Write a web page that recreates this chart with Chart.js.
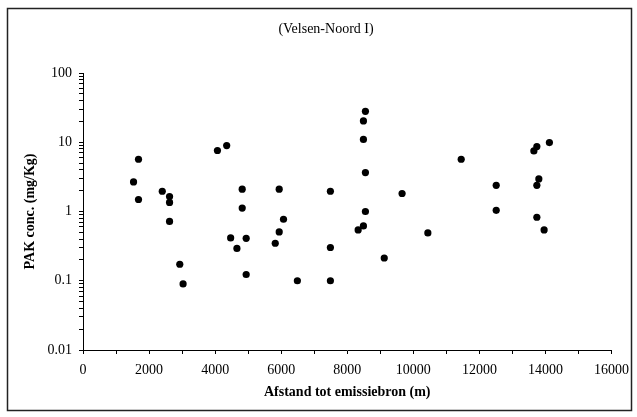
<!DOCTYPE html>
<html>
<head>
<meta charset="utf-8">
<script src="https://cdn.jsdelivr.net/npm/chart.js@4/dist/chart.umd.min.js"></script>
<style>
  html, body { margin: 0; padding: 0; background: #fff; }
  canvas { display: block; }
</style>
</head>
<body>
<canvas id="chart" width="637" height="417"></canvas>
<script>
// Distance to the emission source (m) and PAH concentration (mg/kg) per sample
const distances = [1530, 1680, 1680, 2400, 2620, 2620, 2620, 2930, 3030,
  4070, 4350, 4470, 4660, 4820, 4820, 4940, 4940, 5820, 5940, 5940, 6070,
  6490, 7490, 7490, 7490, 8330, 8490, 8550, 8550, 8490, 8490, 8550, 9120,
  9660, 10440, 11450, 12510, 12510, 13650, 13740, 13800, 13740, 13740,
  13960, 14120];
const concentrations = [2.67, 5.68, 1.49, 1.96, 1.64, 1.35, 0.72, 0.173, 0.09,
  7.6, 8.96, 0.415, 0.293, 2.10, 1.12, 0.41, 0.123, 0.348, 2.10, 0.507, 0.773,
  0.10, 1.96, 0.302, 0.10, 0.542, 0.618, 1.0, 3.65, 11.0, 20.3, 28.0, 0.213,
  1.82, 0.49, 5.68, 2.39, 1.04, 7.49, 8.67, 2.95, 2.39, 0.826,
  0.542, 9.9];

const xTickLabels = [0, 2000, 4000, 6000, 8000, 10000, 12000, 14000, 16000];
const yTickLabels = [0.01, 0.1, 1, 10, 100];

const chartTitle = '(Velsen-Noord I)';
const xTitle = 'Afstand tot emissiebron (m)';
const yTitle = 'PAK conc. (mg/Kg)';

const points = distances.map((d, i) => ({ x: d, y: concentrations[i] }));

// log-axis tick positions: every integer multiple within each decade
const yTickValues = [];
for (let i = 0; i < yTickLabels.length - 1; i++) {
  for (let m = 1; m <= 9; m++) yTickValues.push(+(m * yTickLabels[i]).toPrecision(3));
}
yTickValues.push(yTickLabels[yTickLabels.length - 1]);

const serif = '"Liberation Serif", "Times New Roman", serif';

// outer frame and heading
const framePlugin = {
  id: 'frame',
  afterDraw(chart) {
    const ctx = chart.ctx;
    ctx.save();
    ctx.strokeStyle = '#222';
    ctx.lineWidth = 1.5;
    ctx.strokeRect(7.5, 8.5, 624, 402);
    ctx.fillStyle = '#000';
    ctx.font = '14px ' + serif;
    ctx.textAlign = 'center';
    ctx.textBaseline = 'middle';
    ctx.fillText(chartTitle, 326, 29);
    ctx.restore();
  }
};

new Chart(document.getElementById('chart'), {
  type: 'scatter',
  data: {
    datasets: [{
      data: points,
      backgroundColor: '#000',
      borderColor: '#000',
      pointRadius: 3.6,
      pointHoverRadius: 3.6,
      borderWidth: 0
    }]
  },
  options: {
    responsive: false,
    animation: false,
    events: [],
    layout: { padding: { top: 73, right: 23, left: 0, bottom: 0 } },
    plugins: {
      legend: { display: false },
      tooltip: { enabled: false }
    },
    scales: {
      x: {
        type: 'linear',
        min: 0,
        max: 16000,
        afterFit(scale) { scale.height = 67; },
        afterBuildTicks(scale) {
          const t = [];
          for (let v = 0; v <= 16000; v += 1000) t.push({ value: v });
          scale.ticks = t;
        },
        ticks: {
          color: '#000',
          font: { family: serif, size: 14 },
          padding: 8,
          maxRotation: 0,
          autoSkip: false,
          callback: (v) => xTickLabels.includes(v) ? String(v) : ''
        },
        grid: {
          drawOnChartArea: false,
          drawTicks: true,
          tickLength: 4,
          tickColor: '#000',
          tickWidth: 1
        },
        border: { display: true, color: '#000', width: 1 },
        title: {
          display: true,
          text: xTitle,
          color: '#000',
          font: { family: serif, size: 14, weight: 'bold' },
          padding: { top: 0, bottom: 16 }
        }
      },
      y: {
        type: 'logarithmic',
        min: 0.01,
        max: 100,
        afterFit(scale) { scale.width = 83; },
        afterBuildTicks(scale) {
          scale.ticks = yTickValues.map(v => ({ value: v }));
        },
        ticks: {
          color: '#000',
          font: { family: serif, size: 14 },
          padding: 7,
          autoSkip: false,
          callback: (v) => yTickLabels.includes(v) ? String(v) : ''
        },
        grid: {
          drawOnChartArea: false,
          drawTicks: true,
          tickLength: 4,
          tickColor: '#000',
          tickWidth: 1
        },
        border: { display: true, color: '#000', width: 1 },
        title: {
          display: true,
          text: yTitle,
          color: '#000',
          font: { family: serif, size: 14, weight: 'bold' },
          padding: { top: 22, bottom: 0 }
        }
      }
    }
  },
  plugins: [framePlugin]
});
</script>
</body>
</html>
